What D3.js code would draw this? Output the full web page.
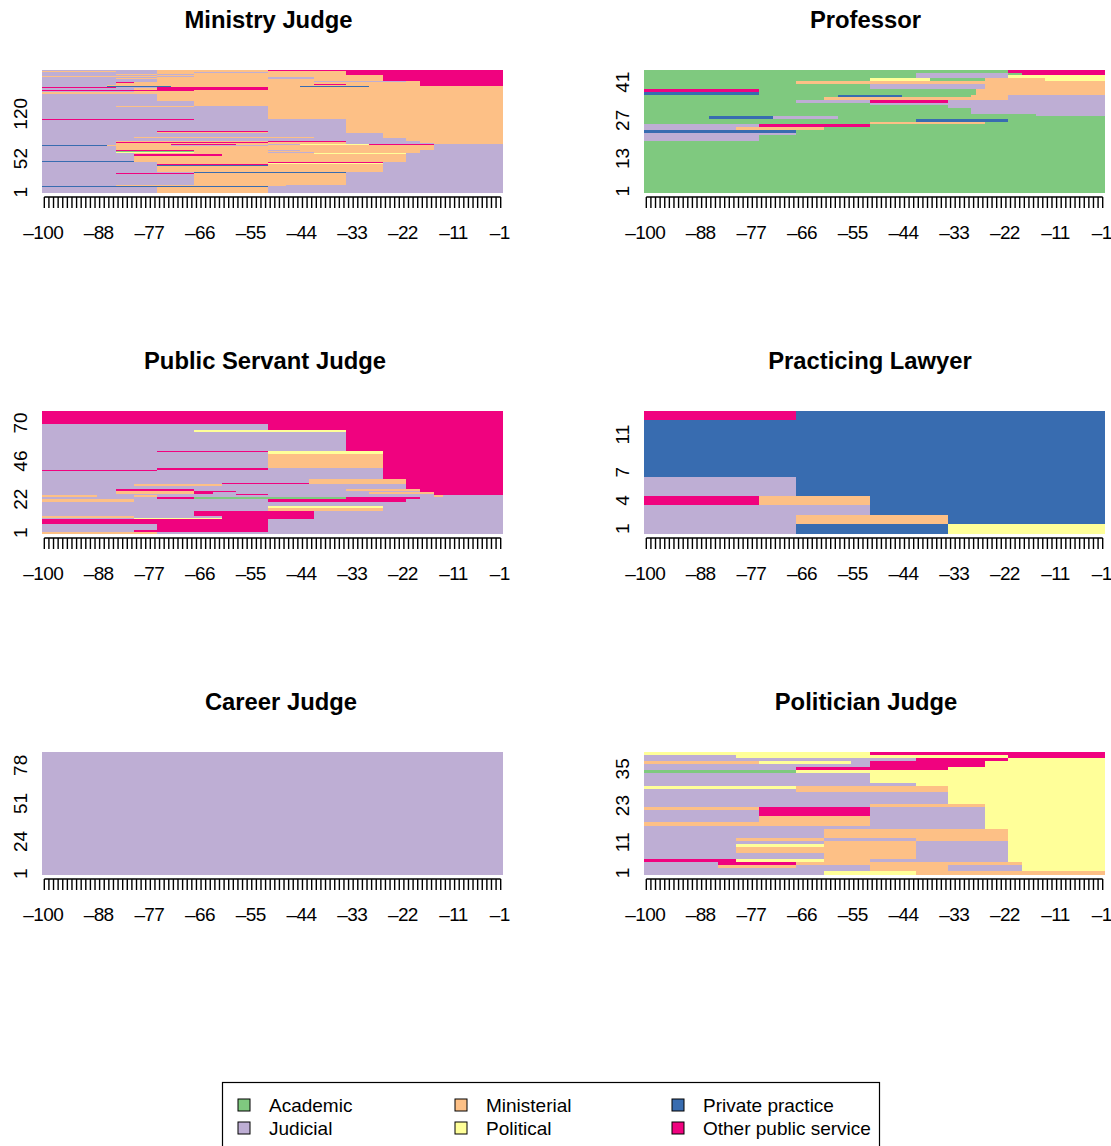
<!DOCTYPE html>
<html><head><meta charset="utf-8">
<script src="https://cdn.jsdelivr.net/npm/d3@7"></script>
<style>
body{margin:0;background:#fff}
svg{display:block}
text{font-family:"Liberation Sans",Arial,Helvetica,sans-serif;fill:#000}
</style>
</head><body>
<svg id="chart" width="1111" height="1146"></svg>
<script>
// ---------- DATA ----------
const stateCodes  = ["A","J","M","P","V","O"];
const stateLabels = ["Academic","Judicial","Ministerial","Political","Private practice","Other public service"];
const stateColors = ["#7FC97F","#BEAED4","#FDC086","#FFFF99","#386CB0","#F0027F"];
const legendOrder = ["A","M","V","J","P","O"];

const timePoints = d3.range(-100, 0);              // -100 ... -1
const timeTickLabels = [-100,-88,-77,-66,-55,-44,-33,-22,-11,-1];

const panelTitles = ["Ministry Judge","Professor","Public Servant Judge","Practicing Lawyer","Career Judge","Politician Judge"];

// y-axis labels (sequence index) for each panel
const yLabelsMinistry   = [1,52,120];
const yLabelsProfessor  = [1,13,27,41];
const yLabelsPublic     = [1,22,46,70];
const yLabelsLawyer     = [1,4,7,11];
const yLabelsCareer     = [1,24,51,78];
const yLabelsPolitician = [1,11,23,35];

// Sequences, listed from the top row to the bottom row.
// "k*X25 Y49 Z100": k identical rows; state X until column 25, Y until 49, Z until 100.
const seqMinistry = [
 "1*J25 M49 O100","1*J33 M66 O100","1*M16 J25 M66 O100","1*J25 M33 J49 M66 O100",
 "2*J25 M66 O100","1*J16 M25 J33 M66 O100","1*J25 M66 O100",
 "1*J25 M74 O100","1*M25 J33 M74 O100","2*J25 M49 J59 M74 O100","1*J16 M49 J59 M74 O100","4*J25 M74 O100",
 "1*J25 M59 J79 M82 O100","1*J16 O20 M82 O100","2*J16 M82 O100","1*J20 M33 O49 M82 O100",
 "1*J16 M59 O66 M82 O100","2*J14 M82 O100",
 "1*J14 V28 M56 V71 M100","1*O16 J25 O49 M100","3*J20 M25 O49 M100","1*J20 V39 M100",
 "1*O33 M100","1*J20 M100","4*M100","10*J25 M100","7*J33 M100","1*J39 M100",
 "1*J16 M33 J49 M100","19*J49 M100",
 "1*O33 J66 M100","17*J66 M100","1*J25 O49 J66 M100","1*J25 M49 J66 M100","7*J74 M100",
 "1*J20 M59 J74 M100","5*J79 M100","1*J16 M49 O66 J82 M100","1*J16 O49 M66 J82 M100",
 "3*J16 M66 J85 M100","1*J16 M28 O42 M49 J56 P71 O85 J100",
 "1*V14 M28 J49 M85 J100","7*J16 M85 J100","1*J16 O33 M49 J56 M82 J100","1*J16 A33 M82 J100",
 "1*J16 M33 O49 M82 J100","1*J16 P33 M49 J59 M82 J100","1*J20 M59 P79 J100",
 "3*J20 O39 M79 J100","8*J20 M79 J100","1*V20 M79 J100","1*J20 O39 J59 M79 J100",
 "1*J25 M49 O74 J100","1*J25 M49 P74 J100","3*J25 O49 M74 J100","1*J25 V49 M74 J100",
 "9*J25 M74 J100","1*J33 V66 J100","1*J16 O33 M66 J100","17*J33 M66 J100",
 "1*M59 J100","1*J16 M53 J100","1*V49 J100","9*J25 M49 J100"
];
const seqProfessor = [
 "1*A79 O100","1*A59 J79 A82 O100","1*A59 J79 P100","1*A49 P62 A74 M87 P100","1*A33 M100",
 "2*A49 J74 M100","1*O25 A72 M100","1*V25 A72 M100","1*A42 V56 A71 M79 J100","1*A39 M79 J100",
 "1*A33 J49 O66 J100","1*A49 J100","1*A66 J100","2*A71 J100","1*A85 J100",
 "1*A14 V28 J42 A100","1*A59 V79 A100","1*A49 M74 A100","1*J25 O49 A100","1*J20 M39 A100",
 "1*V33 A100","1*J33 A100","2*J25 A100","19*A100"
];
const seqPublic = [
 "8*O100","4*J49 O100","1*J33 P66 O100","12*J66 O100","1*J25 O49 P74 O100","1*J49 P74 O100",
 "9*J49 M74 O100","1*J25 O49 J74 O100","1*O25 J74 O100","5*J74 O100","2*J58 M79 O100",
 "1*J39 O58 M79 O100","1*J20 M39 J79 O100","2*J79 O100","1*J16 O33 J66 M82 O100",
 "1*J16 M33 O42 J82 O100","1*J16 M33 O37 J71 M85 O100","1*J42 O49 J85 O100",
 "1*M12 J20 M25 J85 M87 J100","1*J25 O33 A66 O82 J100","2*M20 J49 O79 J100","3*J100",
 "1*J49 P74 J100","2*J49 M74 J100","3*J33 O59 J100","1*M20 J39 O59 J100","1*J20 P39 O59 J100",
 "3*O49 J100","4*J25 O49 J100","1*J20 O49 J100","1*M25 J100"
];
const seqLawyer = [
 "1*O33 V100","6*V100","2*J33 V100","1*O25 M49 V100","1*J49 V100","1*J33 M66 V100","1*J33 V66 P100"
];
const seqCareer = ["87*J100"];
const seqPolitician = [
 "1*P49 O100","1*J20 P79 O100","1*J59 O79 P100","1*M25 P45 J49 O74 P100","1*J49 O74 P100",
 "1*J33 O66 P100","1*A33 P100","3*J49 P100","1*J59 P100","1*P33 M66 P100","1*J33 M66 P100",
 "4*J66 P100","1*J49 M74 P100","1*M25 O49 J74 P100","2*J25 O49 J74 P100","2*J25 M49 J74 P100",
 "1*M49 J74 P100","1*J74 P100","3*J39 M79 P100","1*J20 M39 J59 M79 P100","1*J39 M59 J79 P100",
 "1*J20 P39 M59 J79 P100","2*J20 M59 J79 P100","2*J39 M59 J79 P100","1*O20 P39 M49 J79 P100",
 "1*J16 O33 M82 P100","1*J16 M33 J49 M66 J82 P100","1*J49 M66 J82 P100","1*J39 P59 M100"
];

const panelSeqs   = [seqMinistry, seqProfessor, seqPublic, seqLawyer, seqCareer, seqPolitician];
const panelYLabels= [yLabelsMinistry, yLabelsProfessor, yLabelsPublic, yLabelsLawyer, yLabelsCareer, yLabelsPolitician];

// ---------- LAYOUT ----------
const colX0 = [42, 644], plotW = 461;
const rowY0 = [70, 411, 752], plotH = 122.5;
const titleCX = [[268.5, 865.5],[265, 870],[281, 866]];

const color = d3.scaleOrdinal().domain(stateCodes).range(stateColors);
const svg = d3.select("#chart");
const defs = svg.append("defs");

function parseGroups(list){
  return list.map(s => {
    const [cnt, body] = s.split("*");
    const spells = []; let start = 0;
    body.trim().split(/\s+/).forEach(tok => {
      const end = +tok.slice(1);
      spells.push({state: tok[0], start, end}); start = end;
    });
    return {count: +cnt, spells};
  });
}

function fmt(v){ return v < 0 ? "\u2013" + Math.abs(v) : String(v); }

panelSeqs.forEach((seqList, i) => {
  const c = i % 2, r = Math.floor(i / 2);
  const x0 = colX0[c], y0 = rowY0[r];
  const groups = parseGroups(seqList);
  const n = d3.sum(groups, g => g.count);
  const x = d3.scaleLinear().domain([-100, 0]).range([x0, x0 + plotW]);
  const y = d3.scaleLinear().domain([0, n]).range([y0 + plotH, y0]);
  const colW = x(-99) - x(-100);

  defs.append("clipPath").attr("id", "clip" + i)
    .append("rect").attr("x", x0).attr("y", y0).attr("width", plotW).attr("height", plotH + 0.5);

  // pixel-snapped row groups (no anti-aliasing, like a raster sequence plot)
  let top = n;
  const boxes = groups.map(grp => {
    const bottom = top - grp.count;
    const pyT = Math.round(y(top));
    let pyB = Math.round(y(bottom));
    if (pyB <= pyT) pyB = pyT + 1;
    top = bottom;
    return {grp, pyT, pyB};
  });
  // thicker groups first, so that one-pixel stripes stay visible on top
  const order = boxes.slice().sort((a, b) => (b.pyB - b.pyT) - (a.pyB - a.pyT));
  const g = svg.append("g").attr("clip-path", `url(#clip${i})`).attr("shape-rendering", "crispEdges");
  order.forEach(bx => {
    bx.grp.spells.forEach(sp => {
      const xa = Math.round(x(-100 + sp.start)), xb = Math.round(x(-100 + sp.end));
      g.append("rect")
        .attr("x", xa).attr("width", xb - xa)
        .attr("y", bx.pyT).attr("height", bx.pyB - bx.pyT)
        .attr("fill", color(sp.state));
    });
  });

  // title
  svg.append("text").attr("x", titleCX[r][c]).attr("y", y0 - 42.5)
    .attr("text-anchor", "middle").style("font-weight", "bold").style("font-size", "23.8px")
    .text(panelTitles[i]);

  // y labels (rotated)
  const ylx = x0 - 15.5;
  panelYLabels[i].forEach(v => {
    svg.append("text")
      .attr("transform", `translate(${ylx},${y(v - 0.5)}) rotate(-90)`)
      .attr("text-anchor", "middle").style("font-size", "19px").text(v);
  });

  // x axis: one tick per time point, labels where they fit
  const axY = y0 + plotH + 4.5;
  const ax = svg.append("g");
  ax.append("line").attr("x1", x(-100) + colW/2).attr("x2", x(-1) + colW/2)
    .attr("y1", axY).attr("y2", axY).attr("stroke", "#000").attr("stroke-width", 1.4);
  timePoints.forEach(t => {
    ax.append("line").attr("x1", x(t) + colW/2).attr("x2", x(t) + colW/2)
      .attr("y1", axY).attr("y2", axY + 11).attr("stroke", "#000").attr("stroke-width", 1.4);
  });
  timeTickLabels.forEach(t => {
    ax.append("text").attr("x", x(t) + colW/2 - 1).attr("y", axY + 42)
      .attr("text-anchor", "middle").style("font-size", "19px")
      .style("letter-spacing", "-0.6px").text(fmt(t));
  });
});

// ---------- LEGEND ----------
const lg = svg.append("g");
lg.append("rect").attr("x", 222.5).attr("y", 1082.5).attr("width", 657).attr("height", 90)
  .attr("fill", "none").attr("stroke", "#000").attr("stroke-width", 1.2);
const legColX = [238, 455, 672], legRowY = [1105, 1128];
legendOrder.forEach((code, j) => {
  const ci = j % 3, ri = Math.floor(j / 3);
  const si = stateCodes.indexOf(code);
  lg.append("rect").attr("x", legColX[ci]).attr("y", legRowY[ri] - 6).attr("width", 12).attr("height", 12)
    .attr("fill", stateColors[si]).attr("stroke", "#000").attr("stroke-width", 1);
  lg.append("text").attr("x", legColX[ci] + 31).attr("y", legRowY[ri] + 6.8)
    .style("font-size", "19px").text(stateLabels[si]);
});
</script>
</body></html>
